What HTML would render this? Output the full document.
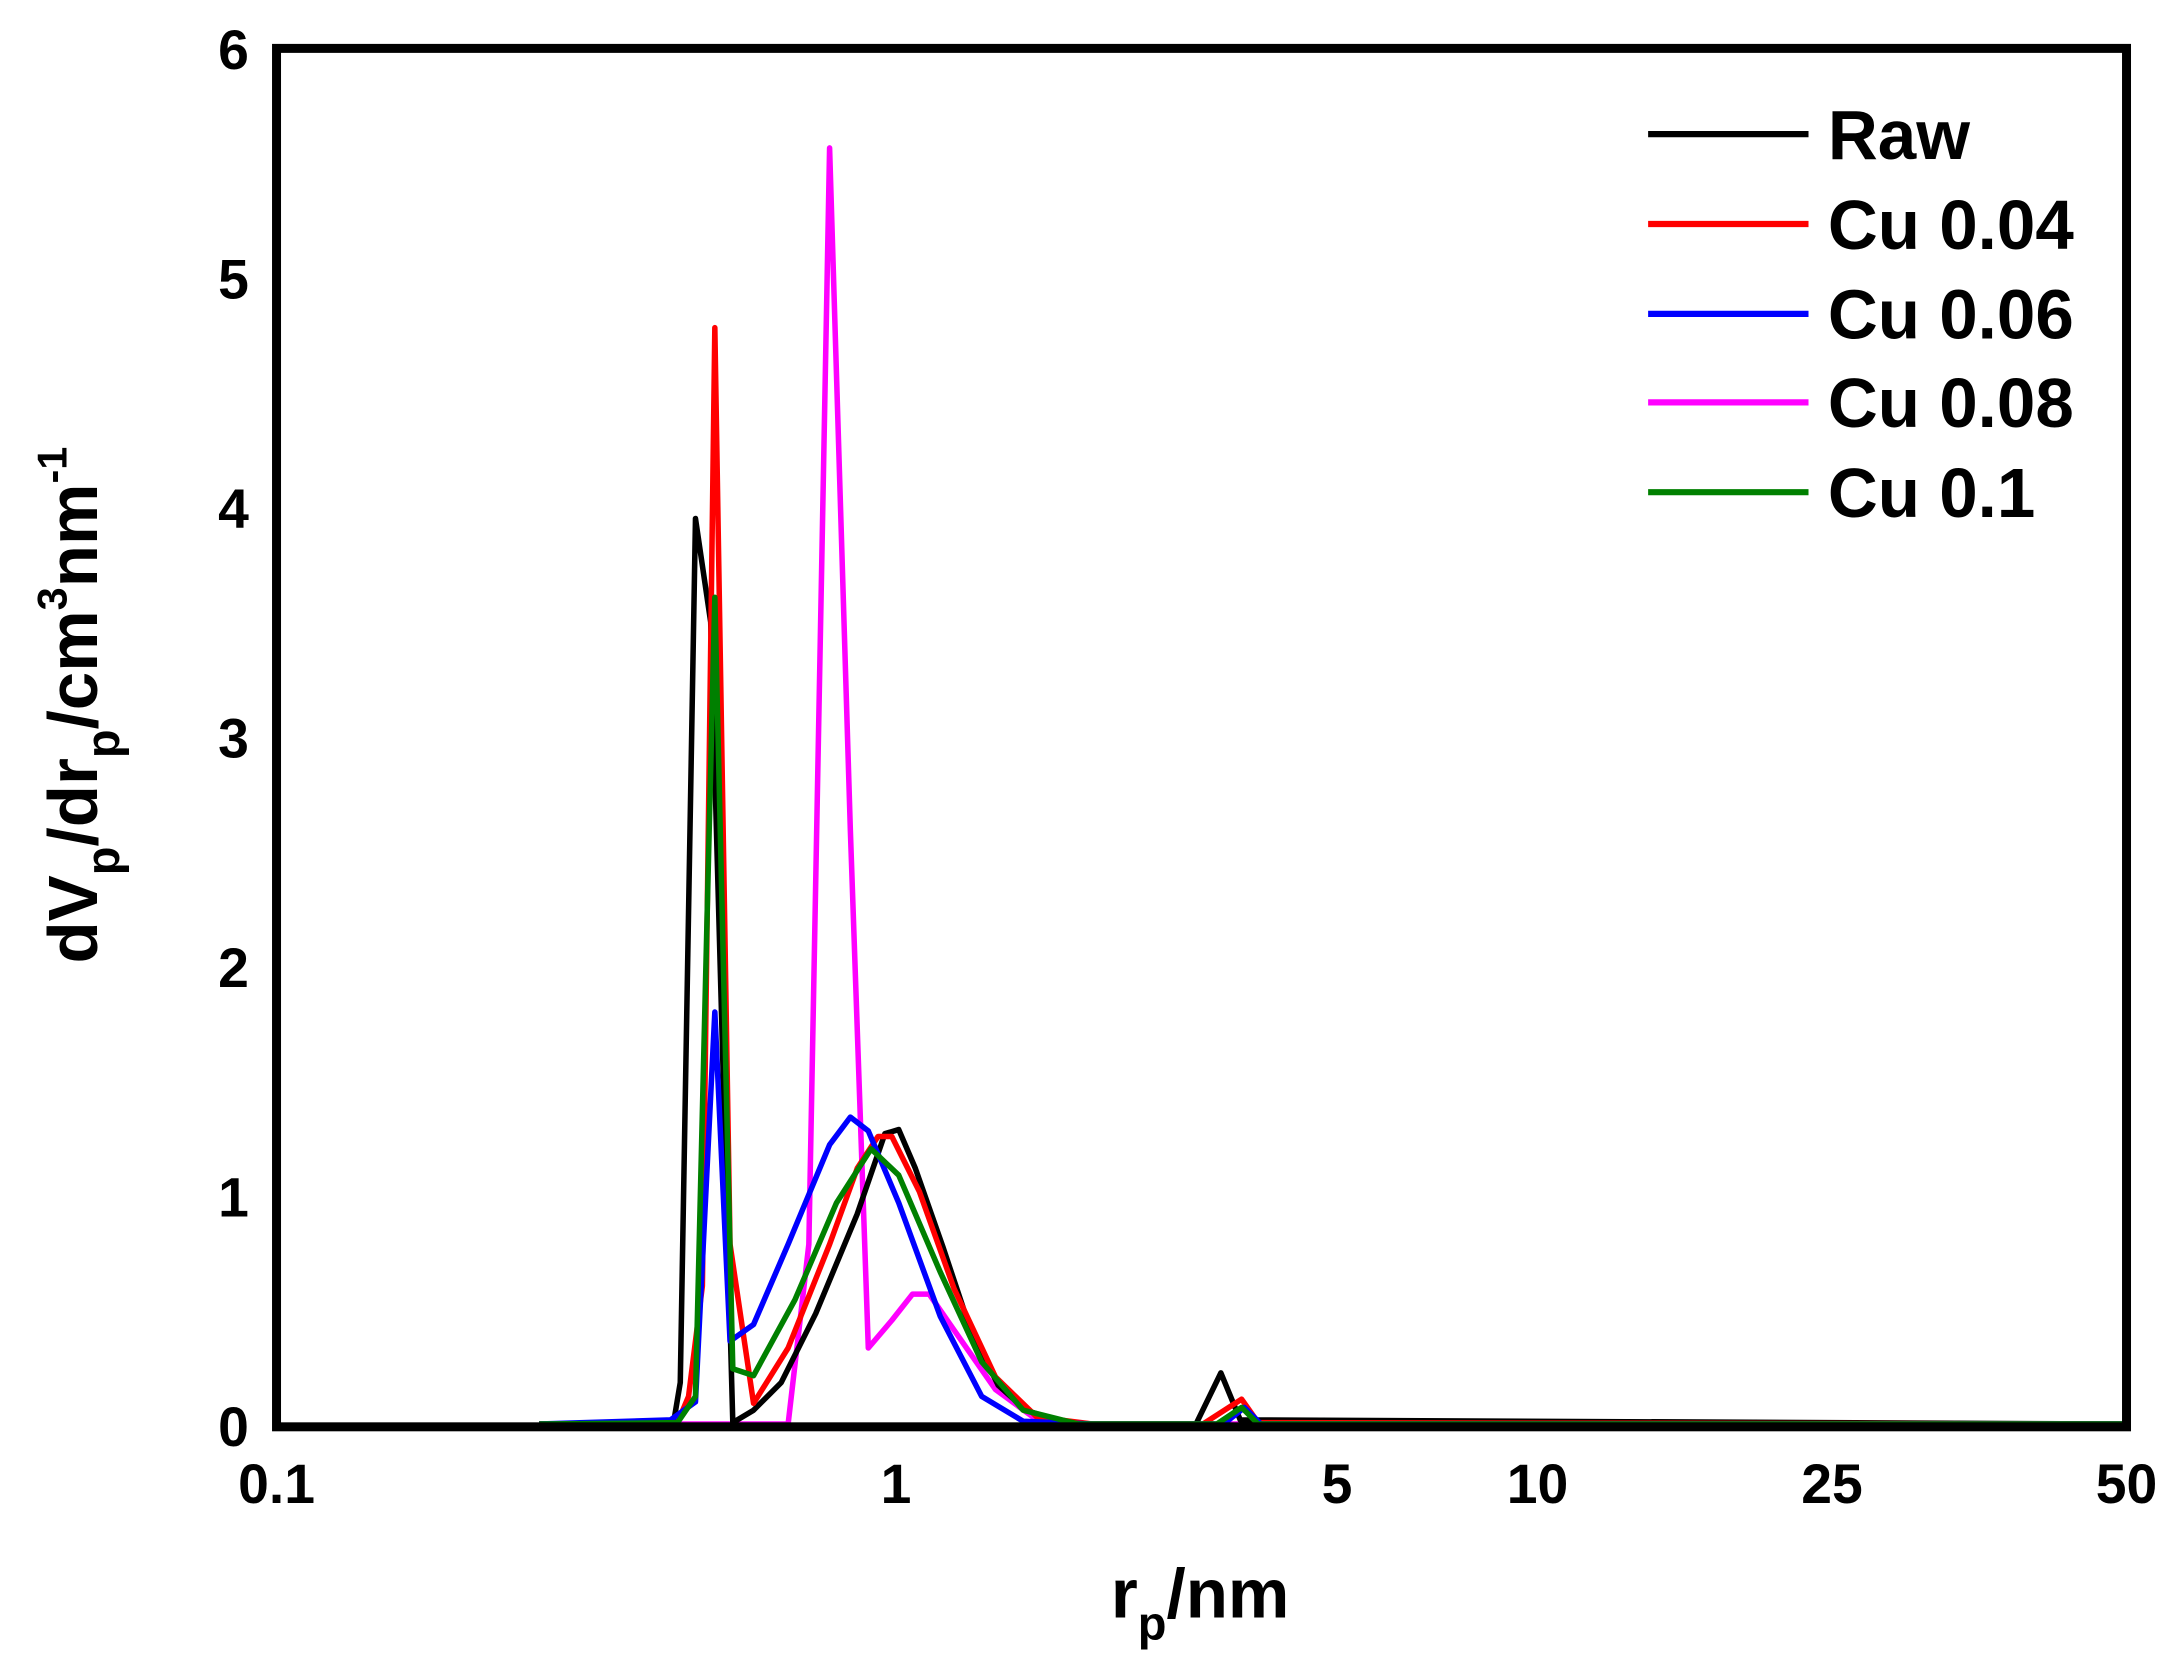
<!DOCTYPE html>
<html><head><meta charset="utf-8"><style>
html,body{margin:0;padding:0;background:#fff;}
svg{display:block;}
text{font-family:"Liberation Sans",Arial,sans-serif;font-weight:bold;fill:#000;}
</style></head><body>
<svg width="2168" height="1666" viewBox="0 0 1568 1205" preserveAspectRatio="none" xmlns="http://www.w3.org/2000/svg">
<rect width="1568" height="1205" fill="#fff"/>
<g fill="none" stroke-width="4" stroke-linejoin="round">
<polyline stroke="#ff00ff" points="390,1030 570,1030 585,900 600,107 615,600 628,975 645,955 660,936 672,936 690,962 720,1005 750,1027 790,1030 1538,1030"/>
<polyline stroke="#000" points="390,1030 487,1030 492,1000 503,375 514,450 530,1029 545,1020 565,1000 590,950 620,878 640,820 650,817 662,845 682,902 702,962 722,1002 742,1020 772,1030 865,1030 883,993 897,1027 1538,1030"/>
<polyline stroke="#ff0000" points="390,1030 490,1029 498,1010 508,930 517,237 528,900 545,1015 570,975 600,900 620,845 635,822 645,822 665,862 690,932 720,996 750,1025 790,1030 870,1030 898,1012 910,1029 1538,1030"/>
<polyline stroke="#0000ff" points="390,1030 485,1027 503,1014 517,732 528,970 545,958 570,900 600,828 615,808 628,818 650,870 680,952 710,1010 740,1028 790,1030 885,1030 900,1018 912,1030 1538,1030"/>
<polyline stroke="#008000" points="390,1030 490,1029 503,1010 517,432 530,990 545,995 575,940 605,870 630,831 650,850 680,920 710,985 740,1020 780,1030 880,1030 898,1018 910,1030 1538,1030"/>
</g>
<rect x="200" y="35" width="1338" height="997" fill="none" stroke="#000" stroke-width="6.5"/>
<g font-size="40" text-anchor="end">
<text x="180" y="1046">0</text><text x="180" y="880">1</text><text x="180" y="714">2</text><text x="180" y="548">3</text><text x="180" y="382">4</text><text x="180" y="216">5</text><text x="180" y="50">6</text>
</g>
<g font-size="40" text-anchor="middle">
<text x="200" y="1087">0.1</text><text x="648" y="1087">1</text><text x="967" y="1087">5</text><text x="1112" y="1087">10</text><text x="1325" y="1087">25</text><text x="1538" y="1087">50</text>
</g>
<text x="868" y="1170" font-size="50" text-anchor="middle">r<tspan font-size="34" dy="16">p</tspan><tspan dy="-16">/nm</tspan></text>
<text transform="translate(70,510) rotate(-90)" font-size="50" text-anchor="middle">dV<tspan font-size="34" dy="16">p</tspan><tspan dy="-16">/dr</tspan><tspan font-size="34" dy="16">p</tspan><tspan dy="-16">/cm</tspan><tspan font-size="30" dy="-22">3</tspan><tspan dy="22">nm</tspan><tspan font-size="30" dy="-22">-1</tspan></text>
<g stroke-width="4.5">
<line x1="1192" y1="97" x2="1308" y2="97" stroke="#000"/>
<line x1="1192" y1="162" x2="1308" y2="162" stroke="#ff0000"/>
<line x1="1192" y1="227" x2="1308" y2="227" stroke="#0000ff"/>
<line x1="1192" y1="291" x2="1308" y2="291" stroke="#ff00ff"/>
<line x1="1192" y1="356" x2="1308" y2="356" stroke="#008000"/>
</g>
<g font-size="50">
<text x="1322" y="115">Raw</text><text x="1322" y="180">Cu 0.04</text><text x="1322" y="245">Cu 0.06</text><text x="1322" y="309">Cu 0.08</text><text x="1322" y="374">Cu 0.1</text>
</g>
</svg>
</body></html>
